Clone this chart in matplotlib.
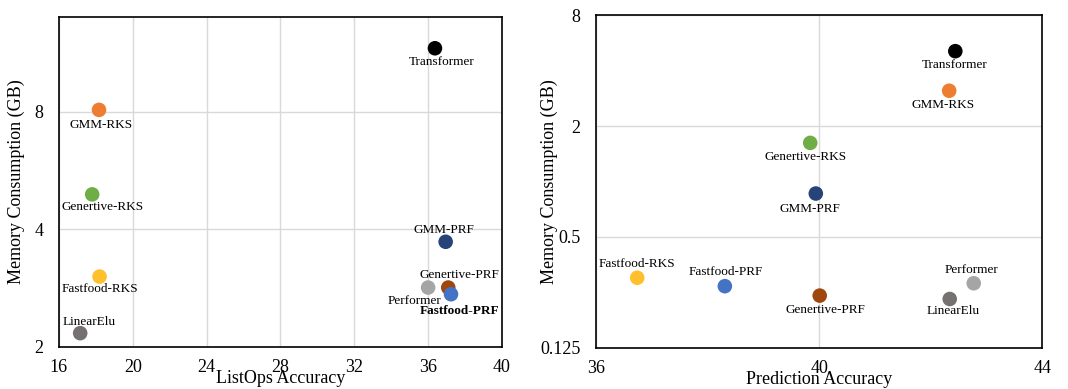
import matplotlib.pyplot as plt
from matplotlib.ticker import FixedLocator, NullLocator

plt.rcParams["font.family"] = ["Liberation Serif", "DejaVu Serif"]

# model names / colours shared by both panels
models = ["Transformer", "GMM-RKS", "Generative-RKS", "Fastfood-RKS", "LinearElu",
          "GMM-PRF", "Generative-PRF", "Performer", "Fastfood-PRF"]
labels = ["Transformer", "GMM-RKS", "Genertive-RKS", "Fastfood-RKS", "LinearElu",
          "GMM-PRF", "Genertive-PRF", "Performer", "Fastfood-PRF"]
colors = ["#000000", "#ED7D31", "#70AD47", "#FFC02E", "#767171",
          "#264478", "#9E480E", "#A5A5A5", "#4472C4"]

# left panel: ListOps
listops_acc = [36.37, 18.17, 17.8, 18.2, 17.15, 36.95, 37.09, 36.0, 37.24]
listops_mem = [11.65, 8.1, 4.92, 3.03, 2.17, 3.72, 2.84, 2.84, 2.73]
# label offsets (pixels)
listops_off = [(7, -14), (2, -15), (10, -13), (0, -12), (9, 11),
               (-2, 12), (11, 13), (-14, -13), (9, -17)]

# right panel: prediction accuracy
pred_acc = [42.44, 42.33, 39.84, 36.74, 42.34, 39.94, 40.01, 42.77, 38.31]
pred_mem = [5.1, 3.11, 1.62, 0.30, 0.23, 0.86, 0.24, 0.28, 0.27]
pred_off = [(-1, -14), (-6, -14), (-5, -14), (0, 14), (3, -12),
            (-6, -15), (6, -14), (-2, 13), (1, 14)]

fig = plt.figure(figsize=(10.68, 3.89), dpi=100)
ax1 = fig.add_axes([0.0552, 0.108, 0.4148, 0.848])
ax2 = fig.add_axes([0.558, 0.106, 0.418, 0.855])


def draw(ax, xs, ys, offs, bold=None):
    ax.set_axisbelow(True)
    for x, y, c, lab, off in zip(xs, ys, colors, labels, offs):
        ax.scatter(x, y, s=110, color=c, edgecolors="none", zorder=3)
        ax.annotate(lab, (x, y), xytext=off, textcoords="offset pixels",
                    ha="center", va="center", fontsize=9.5,
                    fontweight="bold" if lab == bold else "normal")
    ax.grid(True, color="#D9D9D9", linewidth=1)
    for s in ax.spines.values():
        s.set_linewidth(1.2)
        s.set_color("black")
    ax.tick_params(length=0, labelsize=13)
    ax.tick_params(axis="x", pad=9)
    ax.tick_params(axis="y", pad=11)


draw(ax1, listops_acc, listops_mem, listops_off, bold="Fastfood-PRF")
ax1.set_yscale("log", base=2)
ax1.set_xlim(16, 40)
ax1.set_ylim(2, 14)
ax1.xaxis.set_major_locator(FixedLocator([16, 20, 24, 28, 32, 36, 40]))
ax1.yaxis.set_major_locator(FixedLocator([2, 4, 8]))
ax1.yaxis.set_minor_locator(NullLocator())
ax1.set_yticklabels(["2", "4", "8"])
ax1.set_xlabel("ListOps Accuracy", fontsize=13)
ax1.set_ylabel("Memory Consumption (GB)", fontsize=13)
ax1.xaxis.set_label_coords(0.5, -0.07)
ax1.yaxis.set_label_coords(-0.077, 0.5)

draw(ax2, pred_acc, pred_mem, pred_off)
ax2.set_yscale("log", base=4)
ax2.set_xlim(36, 44)
ax2.set_ylim(0.125, 8)
ax2.xaxis.set_major_locator(FixedLocator([36, 40, 44]))
ax2.yaxis.set_major_locator(FixedLocator([0.125, 0.5, 2, 8]))
ax2.yaxis.set_minor_locator(NullLocator())
ax2.set_yticklabels(["0.125", "0.5", "2", "8"])
ax2.set_xlabel("Prediction Accuracy", fontsize=13)
ax2.set_ylabel("Memory Consumption (GB)", fontsize=13)
ax2.xaxis.set_label_coords(0.5, -0.07)
ax2.yaxis.set_label_coords(-0.084, 0.5)

fig.savefig("out.png", dpi=100)
